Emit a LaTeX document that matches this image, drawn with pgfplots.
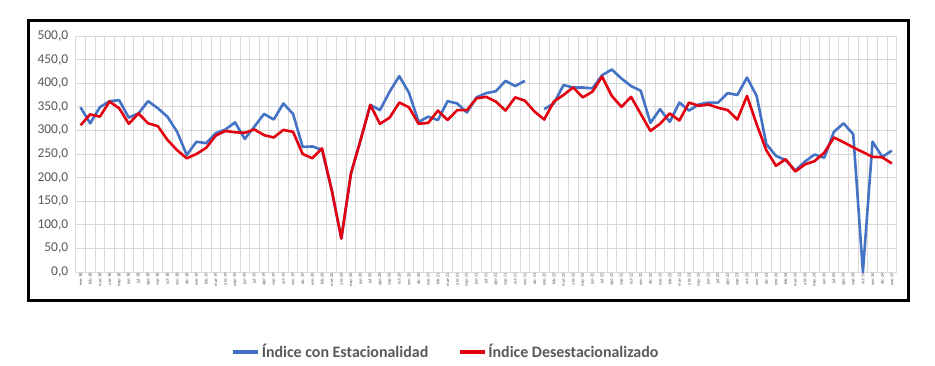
\documentclass[border=0pt]{standalone}
\usepackage{pgfplots}
\usepackage{pgfplotstable}
\pgfplotsset{compat=1.18}
\usepackage{fontspec}
\setmainfont{Carlito}
\definecolor{blueS}{HTML}{4472C4}
\definecolor{redS}{HTML}{E3000F}
\definecolor{txtgray}{HTML}{595959}
\definecolor{gridgray}{HTML}{D9D9D9}
\pgfplotstableread{
i b r
0 349 311
1 315 334
2 349 329
3 362 361
4 364 347
5 327 314
6 336 336
7 362 315
8 347 309
9 329 280
10 297 258
11 248 241
12 276 250
13 273 263
14 294 289
15 302 299
16 317 296
17 282 295
18 308 302
19 335 290
20 323 285
21 357 301
22 335 297
23 265 250
24 266 241
25 259 262
26 174 174
27 71 71
28 209 209
29 280 280
30 354 354
31 343 314
32 382 327
33 415 359
34 380 349
35 318 314
36 329 316
37 322 342
38 362 322
39 357 343
40 338 343
41 370 368
42 379 371
43 383 361
44 405 342
45 394 370
46 405 363
47 nan 340
48 345 323
49 357 361
50 396 375
51 391 391
52 391 370
53 389 382
54 417 414
55 429 373
56 410 350
57 394 371
58 384 335
59 316 299
60 345 314
61 318 336
62 359 321
63 342 359
64 355 352
65 359 355
66 359 348
67 379 343
68 375 323
69 412 373
70 373 313
71 271 258
72 246 225
73 237 239
74 215 213
75 234 228
76 249 235
77 242 253
78 297 285
79 315 275
80 292 264
81 0 254
82 276 244
83 244 243
84 257 230
}\datatable
\begin{document}
\begin{tikzpicture}[x=1bp,y=1bp]
\useasboundingbox (0,0) rectangle (935,-365);
\fill[white] (0,0) rectangle (935,-365);
\begin{axis}[
  at={(75.7bp,-272bp)}, anchor=south west,
  width=821bp, height=236bp, scale only axis,
  xmin=-0.5, xmax=84.5, ymin=0, ymax=500,
  ytick={0,50,...,500},
  xtick={0,...,84},
  xticklabels={ene-18,feb-18,mar-18,abr-18,may-18,jun-18,jul-18,ago-18,sep-18,oct-18,nov-18,dic-18,
    ene-19,feb-19,mar-19,abr-19,may-19,jun-19,jul-19,ago-19,sep-19,oct-19,nov-19,dic-19,
    ene-20,feb-20,mar-20,abr-20,may-20,jun-20,jul-20,ago-20,sep-20,oct-20,nov-20,dic-20,
    ene-21,feb-21,mar-21,abr-21,may-21,jun-21,jul-21,ago-21,sep-21,oct-21,nov-21,dic-21,
    ene-22,feb-22,mar-22,abr-22,may-22,jun-22,jul-22,ago-22,sep-22,oct-22,nov-22,dic-22,
    ene-23,feb-23,mar-23,abr-23,may-23,jun-23,jul-23,ago-23,sep-23,oct-23,nov-23,dic-23,
    ene-24,feb-24,mar-24,abr-24,may-24,jun-24,jul-24,ago-24,sep-24,oct-24,nov-24,dic-24,
    ene-25},
  x tick label style={rotate=90, anchor=east, font=\fontsize{4.5}{5}\selectfont, text=txtgray, inner sep=1bp},
  y tick label style={font=\fontsize{13.5}{15}\selectfont, text=txtgray, xshift=-4bp},
  yticklabel style={/pgf/number format/.cd, fixed, fixed zerofill, precision=1, use comma, 1000 sep={}, assume math mode=true},
  tick style={draw=none},
  minor xtick={-0.5,0.5,...,84.5},
  xminorgrids, ymajorgrids,
  grid style={gridgray, line width=0.8bp},
  minor grid style={gridgray, line width=0.8bp},
  axis line style={gridgray, line width=0.8bp},
  unbounded coords=jump,
  legend columns=2,
  legend style={at={(0.451,-0.339)}, anchor=center, draw=none, fill=none,
    font=\bfseries\fontsize{16}{18}\selectfont, text=txtgray,
    /tikz/every even column/.append style={column sep=28bp}},
  legend image code/.code={\draw[#1, line width=3.2bp] (0bp,0bp) -- (25bp,0bp);},
]
\addplot[blueS, line width=2.6bp, line join=round, no markers] table[x=i, y=b] {\datatable};
\addlegendentry{Índice con Estacionalidad}
\addplot[redS, line width=2.6bp, line join=round, no markers] table[x=i, y=r] {\datatable};
\addlegendentry{Índice Desestacionalizado}
\end{axis}
\draw[line width=3bp] (28,-20) rectangle (908,-300);
\end{tikzpicture}
\end{document}
